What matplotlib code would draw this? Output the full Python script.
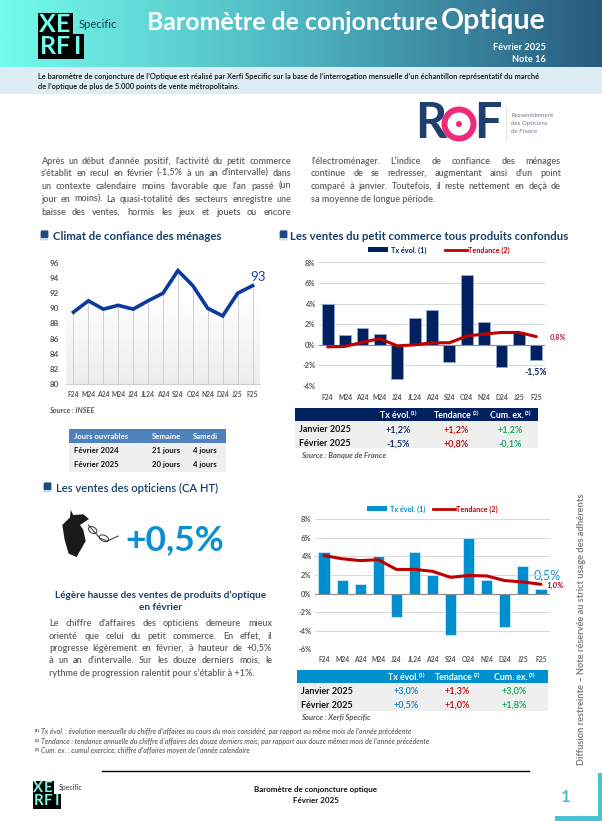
import math
import numpy as np
import matplotlib
matplotlib.use("Agg")
import matplotlib.pyplot as plt
from matplotlib.patches import Rectangle, Polygon, Circle, FancyBboxPatch, Ellipse

plt.rcParams['font.family'] = ['Lato', 'DejaVu Sans']

W, H = 602, 821

months = ["F24", "M24", "A24", "M24", "J24", "JL24", "A24", "S24", "O24", "N24", "D24", "J25", "F25"]
confiance = [89.5, 91.0, 89.9, 90.4, 89.9, 91.0, 92.0, 95.0, 93.0, 90.0, 89.0, 92.0, 93.0]
commerce_tx = [4.0, 1.0, 1.6, 1.1, -3.3, 2.6, 3.4, -1.7, 6.8, 2.2, -2.2, 1.2, -1.5]
commerce_tend = [-0.2, -0.15, 0.25, 0.6, -0.1, 0.0, 0.2, 0.2, 0.85, 1.05, 1.2, 1.2, 0.8]
optique_tx = [4.5, 1.5, 1.0, 4.0, -2.5, 4.5, 2.0, -4.5, 6.0, 1.5, -3.6, 3.0, 0.5]
optique_tend = [4.1, 3.75, 3.55, 3.65, 2.6, 2.6, 2.4, 1.75, 1.95, 1.9, 1.4, 1.25, 1.0]

jours_head = ["Jours ouvrables", "Semaine", "Samedi"]
jours_rows = [["Février 2024", "21 jours", "4 jours"], ["Février 2025", "20 jours", "4 jours"]]
commerce_rows = [["Janvier 2025", "+1,2%", "+1,2%", "+1,2%"], ["Février 2025", "-1,5%", "+0,8%", "-0,1%"]]
optique_rows = [["Janvier 2025", "+3,0%", "+1,3%", "+3,0%"], ["Février 2025", "+0,5%", "+1,0%", "+1,8%"]]

para_left = ["Après un début d’année positif, l’activité du petit commerce",
             "s’établit en recul en février (-1,5% à un an d’intervalle) dans",
             "un contexte calendaire moins favorable que l’an passé (un",
             "jour en moins). La quasi-totalité des secteurs enregistre une",
             "baisse des ventes, hormis les jeux et jouets ou encore"]
para_right = ["l’électroménager. L’indice de confiance des ménages",
              "continue de se redresser, augmentant ainsi d’un point",
              "comparé à janvier. Toutefois, il reste nettement en deçà de",
              "sa moyenne de longue période."]
para_opt = ["Le chiffre d’affaires des opticiens demeure mieux",
            "orienté que celui du petit commerce. En effet, il",
            "progresse légèrement en février, à hauteur de +0,5%",
            "à un an d’intervalle. Sur les douze derniers mois, le",
            "rythme de progression ralentit pour s’établir à +1%."]

NAVY = "#002060"
BLUE = "#0090CF"
RED = "#C00000"
GREEN = "#00A651"
GRAY = "#595959"
TITLE = "#17406D"
BODY = "#5F5F5F"

fig = plt.figure(figsize=(W / 100, H / 100), dpi=100)
page = fig.add_axes([0, 0, 1, 1])
page.axis("off")


def T(x, y, s, size, color="black", ha="left", va="center_baseline", **kw):
    return page.text(x, y, s, fontsize=size, color=color, ha=ha, va=va, **kw)


def ax_px(x0, y0, x1, y1):
    a = fig.add_axes([x0 / W, 1 - y1 / H, (x1 - x0) / W, (y1 - y0) / H])
    a.patch.set_alpha(0)
    return a


# header gradient
xs = np.linspace(0, 1, 400)
stops = np.array([[0x74, 0xFC, 0xEC], [0x4E, 0xB4, 0xC0], [0x28, 0x5A, 0x7E]]) / 255
grad = np.stack([np.interp(xs, [0, .5, 1], stops[:, i]) for i in range(3)], axis=-1)[None, :, :]
page.imshow(grad, extent=(0, W, 67, 0), aspect="auto", zorder=0)
page.set_xlim(0, W)
page.set_ylim(H, 0)
page.add_patch(Rectangle((0, 67), W, 27, fc="#DCEDF3", ec="none", zorder=0))


def logo(x, y, s, spec_x, spec_y, spec_size, spec_color):
    page.add_patch(Rectangle((x, y), 35 * s, 21 * s, fc="black", ec="none"))
    page.add_patch(Rectangle((x, y + 21 * s), 46 * s, 25 * s, fc="black", ec="none"))
    c = "#74FBEA"
    for lx, ly, ch in [(9, 11, "X"), (25, 11, "E"), (10, 34, "R"), (25, 34, "F"), (40, 34, "I")]:
        T(x + lx * s, y + ly * s, ch, 18 * s, c, ha="center", va="center", fontweight="bold")
    T(spec_x, spec_y, "Specific", spec_size, spec_color)


logo(38, 13, 1.0, 79, 24, 8, "#1D3C4C")
T(438, 20, "Baromètre de conjoncture", 17.9, "white", ha="right", fontweight="bold")
T(546, 19, "Optique", 20.5, "white", ha="right", fontweight="bold")
T(546, 47, "Février 2025", 6.7, "white", ha="right", fontweight="bold")
T(546, 59, "Note 16", 6.7, "white", ha="right", fontweight="bold")
T(38, 76, "Le baromètre de conjoncture de l’Optique est réalisé par Xerfi Specific sur la base de l’interrogation mensuelle d’un échantillon représentatif du marché",
  5.43, "#111111", fontweight="semibold")
T(38, 86, "de l’optique de plus de 5.000 points de vente métropolitains.", 5.43, "#111111", fontweight="semibold")

# ROF logo
T(415, 124, "R", 35, "#1F3F6E", va="center", fontweight="bold")
page.add_patch(Circle((459, 124), 14.5, fc="none", ec="#EE2A7B", lw=4.3))
page.add_patch(Circle((459, 124), 3, fc="#EE2A7B", ec="none"))
T(474, 124, "F", 35, "#1F3F6E", va="center", fontweight="bold")
page.plot([506, 506], [107, 140], color="#DDDDDD", lw=0.6)
for yy, s in zip([115, 123, 131], ["Rassemblement", "des Opticiens", "de France"]):
    T(511, yy, s, 4.4, "#6B7B8B")

fig.canvas.draw()
rend = fig.canvas.get_renderer()


def justified(lines, x0, x1, y0, dy, size, n_just, color=BODY, weight="semibold"):
    for i, line in enumerate(lines):
        base = round(y0 + i * dy + 2.3)
        words = line.split(" ") if i < n_just else [line]
        items = [T(x0, base, w, size, color, va="baseline", fontweight=weight) for w in words]
        widths = [it.get_window_extent(rend).width for it in items]
        gap = ((x1 - x0) - sum(widths)) / max(1, len(words) - 1)
        cur = x0
        for it, w, word in zip(items, widths, words):
            it.set_x(cur)
            # keep every word of a line on one pixel baseline
            d = rend.get_text_width_height_descent(word, it.get_fontproperties(), False)[2]
            it.set_y(base + math.floor(d) - d)
            cur += w + gap


justified(para_left, 41, 291, 161.5, 12.7, 6.45, 5)
justified(para_right, 311, 561, 161.5, 12.7, 6.45, 3)
justified(para_opt, 49, 272, 624, 12.3, 6.45, 4)


def bullet(x, y):
    page.add_patch(FancyBboxPatch((x - 3, y - 2), 6, 6.5, boxstyle="round,pad=1", fc="#C9D9EE", ec="none"))
    page.add_patch(FancyBboxPatch((x - 2.2, y - 3.6), 5.6, 5.6, boxstyle="round,pad=1", fc="#1F4A80", ec="none"))


bullet(44, 235)
T(53, 235, "Climat de confiance des ménages", 8.2, TITLE, fontweight="bold")
bullet(283, 235)
T(290, 235, "Les ventes du petit commerce tous produits confondus", 8.2, TITLE, fontweight="bold")
bullet(47, 487)
T(56, 487, "Les ventes des opticiens (CA HT)", 8.1, TITLE, fontweight="semibold")


def style_axis(a, size=4.9):
    a.set_xticks(range(13))
    a.set_xticklabels(months, fontsize=size, color=GRAY, fontweight="bold")
    a.tick_params(length=0)
    for s in a.spines.values():
        s.set_visible(False)
    a.set_xlim(-.5, 12.5)


# chart 1
ax1 = ax_px(66, 263, 260, 384)
x = np.arange(13)
shade = np.interp(np.linspace(0, 1, 100), [0, .3, 1], [1.0, 1.0, .93])[:, None]
ax1.imshow(np.repeat(shade[:, :, None], 3, axis=2), extent=(-.5, 12.5, 80, 96), aspect="auto", zorder=0)
ax1.vlines(x, 80, confiance, color="#CFCFCF", lw=0.7, zorder=1)
ax1.plot(x, confiance, color="#0B3A9E", lw=2.6, solid_joinstyle="miter", zorder=3)
ax1.set_ylim(80, 96)
ax1.set_yticks(range(80, 97, 2))
ax1.set_yticklabels([str(v) for v in range(80, 97, 2)], fontsize=5.8, color=GRAY, fontweight="bold")
style_axis(ax1)
ax1.spines["bottom"].set_visible(True)
ax1.spines["bottom"].set_color("#CFCFCF")
ax1.tick_params(axis="x", pad=5)
ax1.tick_params(axis="y", pad=5)
ax1.annotate("93", (12, confiance[-1]), xytext=(4, 6), textcoords="offset points", fontsize=9.5, color="#1F3FB0",
             ha="center", va="center", annotation_clip=False)
T(49, 410, "Source : INSEE", 5.3, GRAY, style="italic", fontweight="bold")

# jours table
page.add_patch(Rectangle((69, 429), 157, 14, fc="#4F81BD", ec="none"))
page.add_patch(Rectangle((69, 443), 157, 29, fc="#EFEFEF", ec="none"))
T(74, 436, jours_head[0], 5.6, "white", fontweight="bold")
T(166, 436, jours_head[1], 5.6, "white", ha="center", fontweight="bold")
T(205, 436, jours_head[2], 5.6, "white", ha="center", fontweight="bold")
for yy, row in zip([450, 464], jours_rows):
    T(74, yy, row[0], 5.6, "#111111", fontweight="bold")
    T(166, yy, row[1], 5.6, "#111111", ha="center", fontweight="bold")
    T(205, yy, row[2], 5.6, "#111111", ha="center", fontweight="bold")


def combo(box, tx, tend, ylo, yhi, color, edge, bw, legend_x, xpad):
    a = ax_px(*box)
    a.yaxis.grid(True, color="#D9D9D9", lw=0.8)
    a.set_axisbelow(True)
    a.bar(x, tx, width=bw, color=color, edgecolor=edge, lw=0.7, zorder=2)
    a.axhline(0, color="#8C8C8C", lw=0.8, zorder=3)
    a.plot(x, tend, color=RED, lw=2.2, solid_capstyle="round", zorder=4)
    a.set_ylim(ylo, yhi)
    ticks = list(range(ylo, yhi + 1, 2))
    a.set_yticks(ticks)
    a.set_yticklabels([f"{v}%" for v in ticks], fontsize=5.4, color=GRAY, fontweight="bold")
    style_axis(a)
    a.tick_params(axis="x", pad=xpad)
    a.tick_params(axis="y", pad=2.5)
    ry, bx, lx0, lx1, tx2 = legend_x
    page.add_patch(Rectangle((bx, ry - 2.5), 20, 5, fc=color, ec="none"))
    T(bx + 23, ry, "Tx évol. (1)", 5.2, color, fontweight="bold")
    page.plot([lx0, lx1], [ry, ry], color=RED, lw=2)
    T(tx2, ry, "Tendance (2)", 5.2, RED, fontweight="bold")
    return a


ax2 = combo((319, 262.5, 545, 386), commerce_tx, commerce_tend, -4, 8, NAVY, "#8FA6C9", 0.68, (250, 368, 445, 467, 468), 5.5)
ax3 = combo((315, 519.3, 550, 649.3), optique_tx, optique_tend, -6, 8, BLUE, "#BFE3F5", 0.62, (509, 367, 433, 455, 456), 5)

T(550, 337, "0,8%", 5.4, "#C0114F", style="italic", fontweight="bold")
T(536, 371, "-1,5%", 6.2, NAVY, ha="center", fontweight="bold")
T(547, 574, "0,5%", 9, "#1E8CCB", ha="center")
T(555, 585, "1,0%", 5.8, "#A0103A", ha="center", style="italic", fontweight="bold")


def table(x0, x1, y0, y_head, y_end, head_color, cols, rows, ys, c1, label_x):
    page.add_patch(Rectangle((x0, y0), x1 - x0, y_head - y0, fc=head_color, ec="none"))
    page.add_patch(Rectangle((x0, y_head), x1 - x0, y_end - y_head, fc="#EFEFEF", ec="none"))
    ym = (y0 + y_head) / 2
    for cx, s, sup in zip(cols, ["Tx évol.", "Tendance", "Cum. ex."], ["(1)", "(2)", "(3)"]):
        t = T(cx - 3, ym, s, 6.3, "white", ha="center", fontweight="bold")
        bb = t.get_window_extent(rend)
        T(bb.x1 + .5, ym - 2, sup, 4, "white", ha="left", fontweight="bold")
    for yy, row in zip(ys, rows):
        T(label_x, yy, row[0], 6.5, "#111111", fontweight="bold")
        for cx, s, col in zip(cols, row[1:], [c1, RED, GREEN]):
            T(cx, yy, s, 6.5, col, ha="center", fontweight="semibold")


table(295, 538, 408, 421, 448, NAVY, [398, 456, 510], commerce_rows, [429, 443], NAVY, 299)
T(301, 455, "Source : Banque de France", 5.5, GRAY, style="italic", fontweight="bold")
table(297, 548, 670, 683, 711, BLUE, [406, 457, 514], optique_rows, [690, 704], "#0A7FC0", 301)
T(301, 717, "Source : Xerfi Specific", 5.5, GRAY, style="italic", fontweight="bold")


# hand + glasses
def zp(pts):
    return [(20 + a / 3, 475 + b / 3) for a, b in pts]


page.add_patch(Polygon(zp([(152, 105), (160, 120), (190, 118), (207, 132), (180, 150), (190, 165), (197, 198), (170, 246),
                           (146, 236), (134, 195), (127, 150), (150, 127)]), fc="#1A1A1A", ec="none"))
page.plot(*zip(*zp([(205, 150), (240, 190), (262, 198), (295, 183)])), color="#333333", lw=0.7)
page.add_patch(Ellipse((20 + 218 / 3, 475 + 165 / 3), 9, 6, angle=30, fc="none", ec="#333333", lw=0.7))
page.add_patch(Ellipse((20 + 252 / 3, 475 + 190 / 3), 10, 6, angle=25, fc="none", ec="#333333", lw=0.7))
T(175, 540, "+0,5%", 25.5, "#0A8FD0", ha="center", va="center", fontweight="bold")

T(160.5, 594, "Légère hausse des ventes de produits d’optique", 7.2, TITLE, ha="center", fontweight="bold")
T(160.5, 607, "en février", 7.2, TITLE, ha="center", fontweight="bold")

# notes
notes = [("(1)", "Tx évol. : évolution mensuelle du chiffre d’affaires au cours du mois considéré, par rapport au même mois de l’année précédente"),
         ("(2)", "Tendance : tendance annuelle du chiffre d’affaires des douze derniers mois, par rapport aux douze mêmes mois de l’année précédente"),
         ("(3)", "Cum. ex. : cumul exercice, chiffre d’affaires moyen de l’année calendaire")]
for yy, (a, b) in zip([731, 741, 750], notes):
    T(35, yy - 1, a, 3.2, "#444444", fontweight="bold")
    T(41, yy, b, 5.0, "#666666", style="italic", fontweight="semibold")

# footer
page.plot([102, 529], [771.5, 771.5], color="black", lw=1)
logo(33, 781, 0.6, 59, 787, 5, "#333333")
T(316, 789, "Baromètre de conjoncture optique", 5.8, "#111111", ha="center", fontweight="bold")
T(316, 800, "Février 2025", 5.8, "#111111", ha="center", fontweight="bold")
T(566, 796, "1", 12, "#45C4D3", ha="center", fontweight="bold")
page.add_patch(Rectangle((598, 773), 4, 48, fc="#45C4D3", ec="none"))
page.add_patch(Rectangle((555, 816.5), 47, 4.5, fc="#45C4D3", ec="none"))
T(582, 765, "Diffusion restreinte – Note réservée au strict usage des adhérents", 6.7, "#808080", ha="center", va="bottom",
  rotation=90, fontweight="bold")

fig.savefig("out.png", dpi=100)
